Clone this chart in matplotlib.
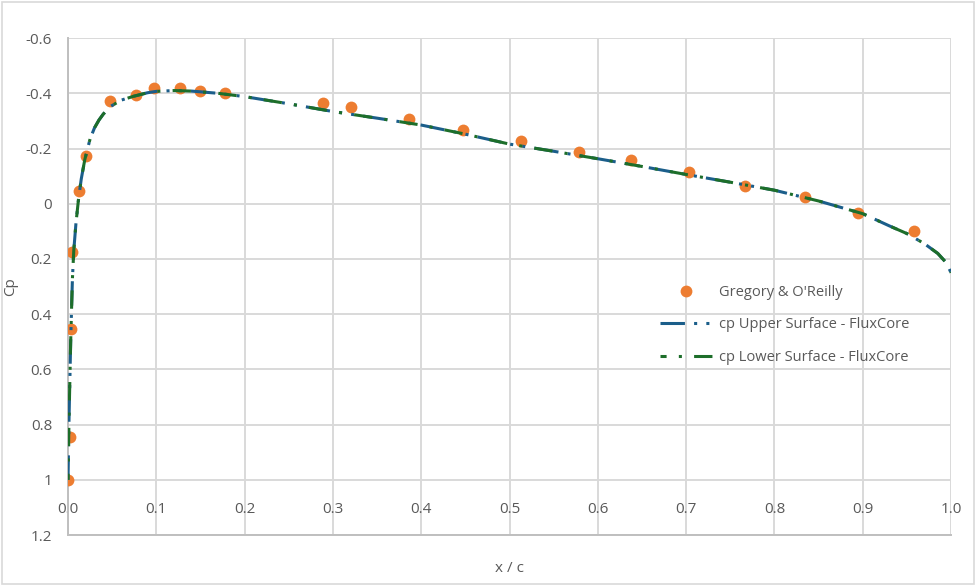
import matplotlib
matplotlib.use("Agg")
import matplotlib.pyplot as plt
from matplotlib.patches import Rectangle

plt.rcParams["font.family"] = ["Open Sans", "DejaVu Sans"]

# ------------------------------------------------------------------ #
#  Data                                                                #
# ------------------------------------------------------------------ #

# Gregory & O'Reilly experimental points
exp_x  = [0.0, 0.0025, 0.0035, 0.0045, 0.0125, 0.020, 0.048, 0.077, 0.097,
          0.127, 0.149, 0.178, 0.289, 0.321, 0.386, 0.447, 0.513, 0.579,
          0.638, 0.703, 0.767, 0.835, 0.895, 0.958]
exp_cp = [1.0, 0.845, 0.455, 0.175, -0.045, -0.174, -0.373, -0.395, -0.42,
          -0.418, -0.41, -0.402, -0.366, -0.351, -0.308, -0.268, -0.228, -0.188,
          -0.159, -0.116, -0.065, -0.025, 0.033, 0.098]

# FluxCore upper surface
upper_x  = [0.0, 0.0005, 0.001, 0.002, 0.003, 0.004, 0.005, 0.0065, 0.009,
            0.012, 0.015, 0.019, 0.025, 0.03, 0.035, 0.04, 0.048, 0.06, 0.074,
            0.09, 0.1, 0.12, 0.14, 0.17, 0.2, 0.25, 0.3, 0.35, 0.4, 0.45,
            0.5, 0.55, 0.6, 0.65, 0.7, 0.75, 0.8, 0.85, 0.9, 0.93, 0.95,
            0.97, 0.985, 0.995, 1.0]
upper_cp = [1.0, 0.9, 0.8, 0.65, 0.5, 0.38, 0.27, 0.17, 0.07,
            -0.02, -0.09, -0.16, -0.235, -0.275, -0.303, -0.325, -0.352, -0.375, -0.389,
            -0.402, -0.407, -0.41, -0.408, -0.4, -0.388, -0.362, -0.334, -0.31, -0.285, -0.252,
            -0.216, -0.19, -0.163, -0.135, -0.106, -0.078, -0.049, -0.01, 0.036, 0.08, 0.108,
            0.145, 0.18, 0.215, 0.25]

# FluxCore lower surface (symmetric case - coincides with upper)
lower_x  = list(upper_x)
lower_cp = list(upper_cp)

x_ticks = [0.0, 0.1, 0.2, 0.3, 0.4, 0.5, 0.6, 0.7, 0.8, 0.9, 1.0]
y_ticks = [-0.6, -0.4, -0.2, 0, 0.2, 0.4, 0.6, 0.8, 1.0, 1.2]
y_tick_labels = ["-0.6", "-0.4", "-0.2", "0", "0.2", "0.4", "0.6", "0.8", "1", "1.2"]

# ------------------------------------------------------------------ #
#  Chart                                                               #
# ------------------------------------------------------------------ #

fig = plt.figure(figsize=(9.76, 5.86), dpi=100)
ax = fig.add_axes([0.0697, 0.087, 0.9047, 0.848])

dots, = ax.plot(exp_x, exp_cp, "o", color="#ED7D31", markersize=8.5,
                markeredgewidth=0, label="Gregory & O'Reilly", zorder=3)
up, = ax.plot(upper_x, upper_cp, color="#1B5E8A", linewidth=2.2,
              linestyle=(0, (8, 3, 1, 3, 1, 3)),
              label="cp Upper Surface - FluxCore", zorder=4)
lo, = ax.plot(lower_x, lower_cp, color="#1D6E2A", linewidth=2.2,
              linestyle=(4, (6, 4, 1, 4)),
              label="cp Lower Surface - FluxCore", zorder=5)

ax.set_xlim(0, 1.0)
ax.set_ylim(1.2, -0.6)
ax.set_xticks(x_ticks)
ax.set_xticklabels([f"{v:.1f}" for v in x_ticks])
ax.set_yticks(y_ticks)
ax.set_yticklabels(y_tick_labels)

ax.grid(True, color="#D9D9D9", linewidth=1.4)
ax.set_axisbelow(True)
for side in ["top", "right"]:
    ax.spines[side].set_visible(False)
for side in ["left", "bottom"]:
    ax.spines[side].set_color("#BFBFBF")
    ax.spines[side].set_linewidth(1.4)

ax.tick_params(axis="both", length=0, labelsize=11, labelcolor="#595959")
ax.tick_params(axis="x", pad=-23.5)
ax.tick_params(axis="y", pad=11.5)

ax.set_xlabel("x / c", fontsize=11, color="#595959", labelpad=19)
ax.set_ylabel("Cp", fontsize=11, color="#595959")
ax.yaxis.set_label_coords(-0.056, 0.5)

ax.legend(handles=[dots, up, lo], loc="upper left", bbox_to_anchor=(0.655, 0.53),
          frameon=False, fontsize=10.5, handlelength=3.7, handletextpad=0.35,
          labelspacing=1.2, labelcolor="#595959")

fig.patches.append(Rectangle((0.002, 0.003), 0.996, 0.994, transform=fig.transFigure,
                             fill=False, edgecolor="#D9D9D9", linewidth=1.2))

fig.savefig("out.png", dpi=100)
